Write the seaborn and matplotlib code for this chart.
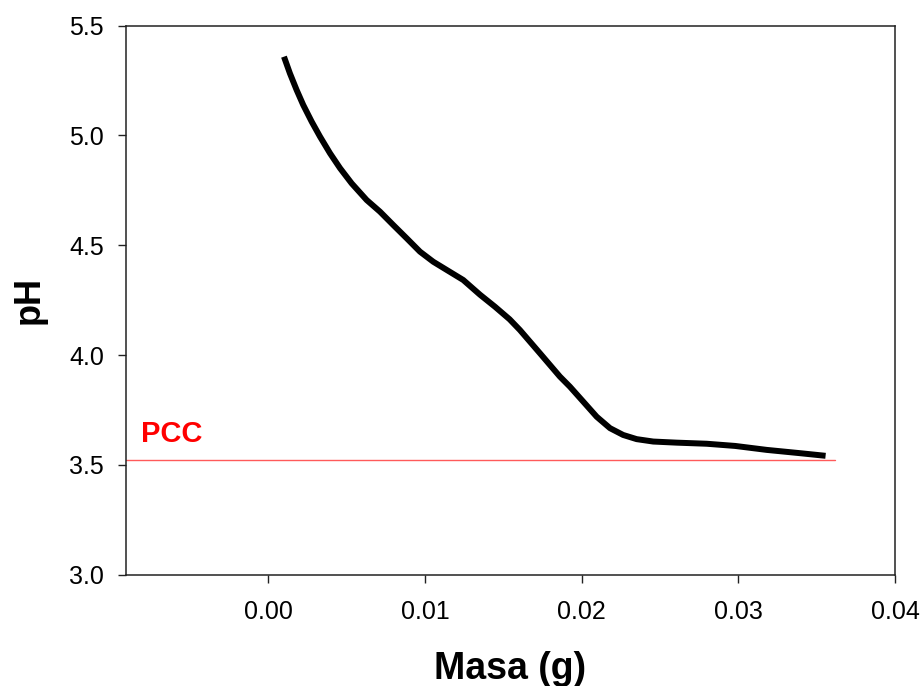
import numpy as np
import pandas as pd
import matplotlib
matplotlib.use("Agg")
import matplotlib.pyplot as plt
import seaborn as sns

# pH curve
masa = [0.00100, 0.00138, 0.00181, 0.00223, 0.00277, 0.00330, 0.00394, 0.00458,
        0.00532, 0.00628, 0.00713, 0.00798, 0.00883, 0.00968, 0.01053, 0.01138,
        0.01244, 0.01351, 0.01447, 0.01540, 0.01606, 0.01734, 0.01861, 0.01925,
        0.02010, 0.02096, 0.02181, 0.02265, 0.02351, 0.02457, 0.02606, 0.02798,
        0.02980, 0.03181, 0.03394, 0.03557]
ph = [5.359, 5.283, 5.207, 5.139, 5.063, 4.995, 4.919, 4.851,
      4.782, 4.706, 4.653, 4.592, 4.532, 4.471, 4.425, 4.388,
      4.342, 4.275, 4.220, 4.163, 4.114, 4.008, 3.902, 3.856,
      3.788, 3.719, 3.667, 3.636, 3.617, 3.606, 3.601, 3.596,
      3.586, 3.568, 3.553, 3.541]

pcc_value = 3.522
pcc_end = 0.0362
x_ticks = [0.00, 0.01, 0.02, 0.03, 0.04]
y_ticks = [3.0, 3.5, 4.0, 4.5, 5.0, 5.5]

df = pd.DataFrame({"Masa": masa, "pH": ph})

sns.set_style("ticks")
plt.rcParams['font.family'] = ['Liberation Sans', 'DejaVu Sans']
plt.rcParams['text.color'] = 'black'
plt.rcParams['axes.labelcolor'] = 'black'
plt.rcParams['xtick.color'] = 'black'
plt.rcParams['ytick.color'] = 'black'

fig = plt.figure(figsize=(9.24, 6.86), dpi=100)
ax = fig.add_axes([0.1364, 0.1624, 0.8322, 0.8001])

sns.lineplot(data=df, x="Masa", y="pH", color="black", linewidth=4.3,
             ax=ax, sort=False, solid_capstyle="butt", solid_joinstyle="round")

xmin = -0.00908
ax.plot([xmin, pcc_end], [pcc_value, pcc_value], color="#ff5a5a", linewidth=1.0)
ax.text(-0.0081, pcc_value + 0.055, "PCC", color="red", fontsize=21,
        fontweight="bold", ha="left", va="bottom")

ax.set_xlim(xmin, 0.04)
ax.set_ylim(3.0, 5.5)
ax.set_xticks(x_ticks)
ax.set_xticklabels([f"{v:.2f}" for v in x_ticks])
ax.set_yticks(y_ticks)
ax.set_yticklabels([f"{v:.1f}" for v in y_ticks])
ax.tick_params(axis="both", direction="out", length=6, width=1.0,
               color="#222222", labelcolor="black", labelsize=18)
ax.tick_params(axis="x", pad=12)
ax.tick_params(axis="y", pad=10)

for s in ax.spines.values():
    s.set_visible(True)
    s.set_color("#222222")
    s.set_linewidth(1.1)

ax.set_xlabel("Masa (g)", fontsize=27, fontweight="bold", labelpad=20, color="black")
ax.set_ylabel("pH", fontsize=26, fontweight="bold", labelpad=16, color="black")

fig.savefig("out.png", dpi=100)
